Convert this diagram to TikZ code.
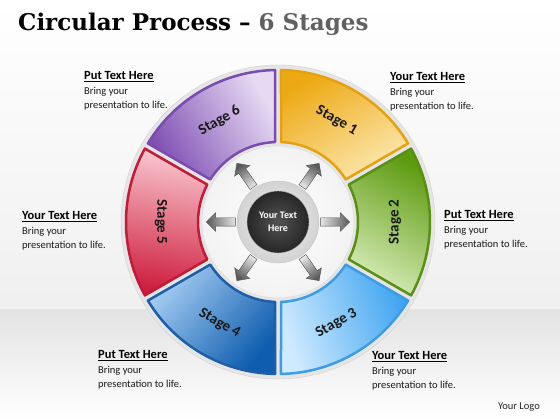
\documentclass[tikz,border=0pt]{standalone}
\usepackage{fontspec}
\setmainfont{Carlito}
\newfontfamily\titlefont{DejaVu Serif}
\usetikzlibrary{shapes.arrows}

\definecolor{stAdark}{HTML}{EDA914}\definecolor{stAlight}{HTML}{FCE8B0}\definecolor{stAline}{HTML}{E6A10E}
\definecolor{stBdark}{HTML}{5C9A0E}\definecolor{stBlight}{HTML}{D6EBB6}\definecolor{stBline}{HTML}{5B8F12}
\definecolor{stCdark}{HTML}{3EA4F0}\definecolor{stClight}{HTML}{CFEAFF}\definecolor{stCline}{HTML}{3C9DE6}
\definecolor{stDdark}{HTML}{0E5DAE}\definecolor{stDlight}{HTML}{A4CCF2}\definecolor{stDline}{HTML}{1C5EA8}
\definecolor{stEdark}{HTML}{CE1E3E}\definecolor{stElight}{HTML}{F9C6CE}\definecolor{stEline}{HTML}{C5193A}
\definecolor{stFdark}{HTML}{7F4FB3}\definecolor{stFlight}{HTML}{E6DAF3}\definecolor{stFline}{HTML}{7A4BB0}

\begin{document}
\begin{tikzpicture}[x=1pt, y=1pt,
	seg/.style={line width=2.5pt, line join=round},
	head/.style={anchor=base west, inner sep=0pt, font=\bfseries\fontsize{12.5}{14}\selectfont},
	body/.style={anchor=north west, inner sep=0pt, align=left, font=\fontsize{10.5}{14}\selectfont, text=black!90},
	stage/.style={font=\bfseries\fontsize{15}{17}\selectfont, text=black!90},
	ray/.style={single arrow, single arrow head extend=5pt, inner sep=4pt, minimum height=29pt, draw=gray!60!black, line width=0.4pt, top color=gray!20, bottom color=gray!70!black}]
		%\draw[red] (0,0) rectangle (560,420);
		\useasboundingbox (0,0) rectangle (560,420);
		\shade[top color=white, bottom color=gray!12] (0,110) rectangle (560,420);
		\shade[top color=gray!22, bottom color=white] (0,0) rectangle (560,110);
		
		\node[anchor=base west, inner sep=0pt, font=\titlefont\bfseries\fontsize{23}{28}\selectfont] (title) at (18,389) {Circular Process \textendash{} {\color{gray!75!black}6 Stages}};
		
		\begin{scope}[shift={(278,198)}]
		\fill[gray!20, draw=gray!35] (0,0) circle (157);
		\shade[inner color=white, outer color=gray!10, draw=gray!30] (0,0) circle (76);
		
		\path[seg, draw=stAline, top color=stAlight, bottom color=stAdark, shading angle=210]
		(31.13:152) arc[start angle=31.13, end angle=88.87, radius=152] -- (87.85:80) arc[start angle=87.85, end angle=32.15, radius=80] -- cycle;
		\path[seg, draw=stBline, top color=stBlight, bottom color=stBdark, shading angle=150]
		(-28.87:152) arc[start angle=-28.87, end angle=28.87, radius=152] -- (27.85:80) arc[start angle=27.85, end angle=-27.85, radius=80] -- cycle;
		\path[seg, draw=stCline, top color=stClight, bottom color=stCdark, shading angle=110]
		(-88.87:152) arc[start angle=-88.87, end angle=-31.13, radius=152] -- (-32.15:80) arc[start angle=-32.15, end angle=-87.85, radius=80] -- cycle;
		\path[seg, draw=stDline, top color=stDlight, bottom color=stDdark, shading angle=50]
		(-148.87:152) arc[start angle=-148.87, end angle=-91.13, radius=152] -- (-92.15:80) arc[start angle=-92.15, end angle=-147.85, radius=80] -- cycle;
		\path[seg, draw=stEline, top color=stElight, bottom color=stEdark, shading angle=-10]
		(151.13:152) arc[start angle=151.13, end angle=208.87, radius=152] -- (207.85:80) arc[start angle=207.85, end angle=152.15, radius=80] -- cycle;
		\path[seg, draw=stFline, top color=stFlight, bottom color=stFdark, shading angle=300]
		(91.13:152) arc[start angle=91.13, end angle=148.87, radius=152] -- (147.85:80) arc[start angle=147.85, end angle=92.15, radius=80] -- cycle;
		
		\node[stage, rotate=-30] (s1) at (60:117) {Stage 1};
		\node[stage, rotate=90] (s2) at (0:117) {Stage 2};
		\node[stage, rotate=30] (s3) at (-60:117) {Stage 3};
		\node[stage, rotate=-30] (s4) at (-120:117) {Stage 4};
		\node[stage, rotate=-90] (s5) at (180:117) {Stage 5};
		\node[stage, rotate=30] (s6) at (120:117) {Stage 6};
		
		\node[ray, rotate=0, shading angle=90] (r1) at (0:55) {};
		\node[ray, rotate=55, shading angle=145] (r2) at (55:55) {};
		\node[ray, rotate=125, shading angle=215] (r3) at (125:55) {};
		\node[ray, rotate=180, shading angle=270] (r4) at (180:55) {};
		\node[ray, rotate=235, shading angle=325] (r5) at (235:55) {};
		\node[ray, rotate=305, shading angle=35] (r6) at (305:55) {};
		
		\shade[inner color=gray!8, outer color=gray!35, draw=gray!45] (0,0) circle (41);
		\shade[inner color=gray!65!black, outer color=black!85, draw=gray!55] (0,0) circle (31);
		\node[align=center, text=white, font=\bfseries\fontsize{10}{13}\selectfont] (hub) at (0,0) {Your Text\\Here};
		\end{scope}
		
		\node[head] (h1) at (84,340) {\underline{Put Text Here}};
		\node[body] (b1) at (84,333) {Bring your\\presentation to life.};
		\node[head] (h2) at (390,339) {\underline{Your Text Here}};
		\node[body] (b2) at (390,332) {Bring your\\presentation to life.};
		\node[head] (h3) at (22,200) {\underline{Your Text Here}};
		\node[body] (b3) at (22,193) {Bring your\\presentation to life.};
		\node[head] (h4) at (444,201) {\underline{Put Text Here}};
		\node[body] (b4) at (444,194) {Bring your\\presentation to life.};
		\node[head] (h5) at (98,61) {\underline{Put Text Here}};
		\node[body] (b5) at (98,54) {Bring your\\presentation to life.};
		\node[head] (h6) at (372,60) {\underline{Your Text Here}};
		\node[body] (b6) at (372,53) {Bring your\\presentation to life.};
		
		\node[anchor=base east, inner sep=0pt, font=\fontsize{10.5}{12}\selectfont, text=black!85] (logo) at (540,10) {Your Logo};
		
	\end{tikzpicture}
\end{document}
